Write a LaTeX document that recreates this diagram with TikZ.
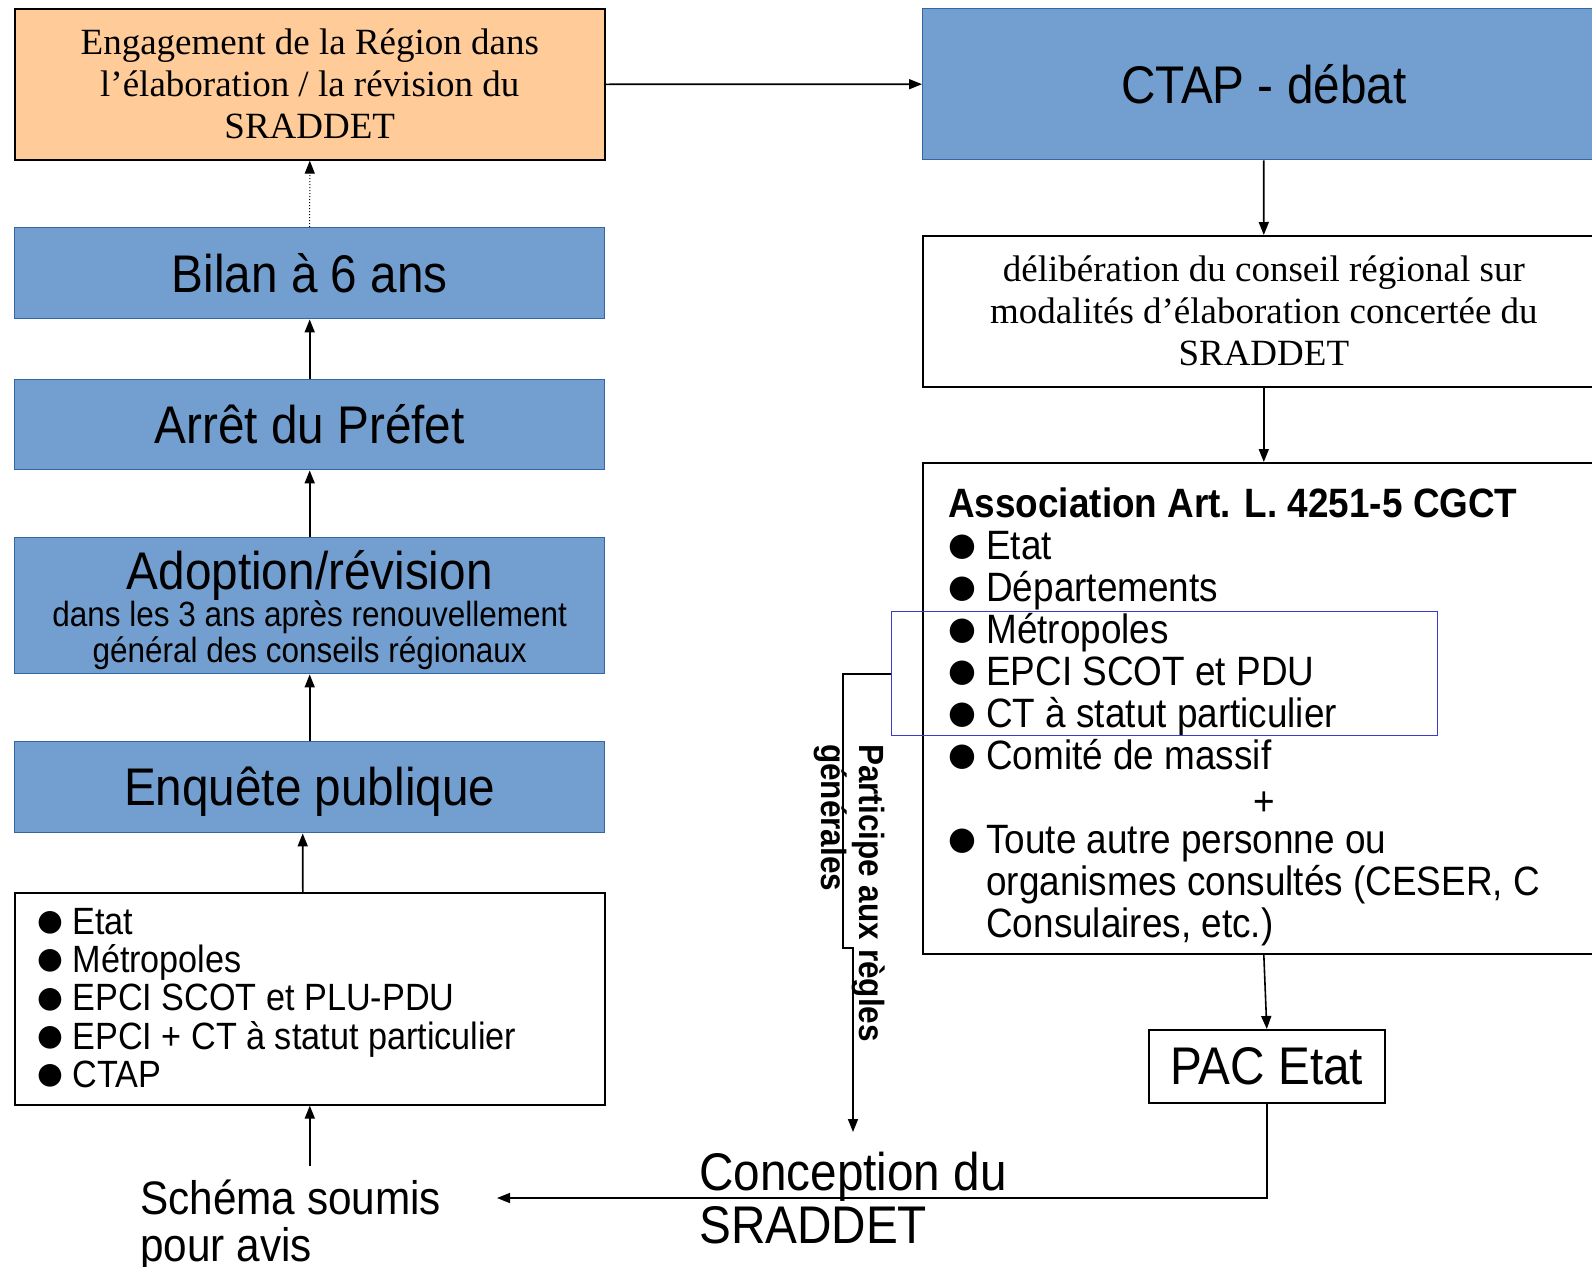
\documentclass[tikz,border=0pt]{standalone}
\usepackage{graphicx}
\usepackage{fontspec}
\setmainfont{Liberation Serif}
\setsansfont[FakeStretch=0.9]{Liberation Sans}
\newfontfamily\puce{DejaVu Sans}
\usetikzlibrary{arrows.meta,positioning,calc}
\definecolor{fondbleu}{HTML}{729FCF}
\definecolor{bordbleu}{HTML}{3465A4}
\definecolor{peche}{HTML}{FFCC99}
\definecolor{traitbleu}{HTML}{3C3CC8}
\newcommand{\bul}{\makebox[.93em][l]{\raisebox{.1em}{\scalebox{.78}{\puce ●}}}}
\newcommand{\suite}{\hspace*{.93em}}

\begin{document}
\begin{tikzpicture}[
 x=1pt,y=-1pt,
 bleu/.style={draw=bordbleu,fill=fondbleu,line width=1.4pt,anchor=north west,align=center,font=\sffamily\fontsize{53}{53}\selectfont},
 cadre/.style={draw=black,fill=white,line width=1.6pt,anchor=north west},
 texte/.style={inner sep=0pt,anchor=north west,align=left,font=\sffamily},
 fleche/.style={-{Triangle[length=13pt,width=10pt]},line width=1.6pt}
]
\path[use as bounding box,clip] (0,0) rectangle (1592,1266);

% colonne de gauche
\node[cadre,fill=peche,minimum width=590,minimum height=151,align=center,font=\fontsize{37}{42}\selectfont] (engag) at (14,8) {Engagement de la Région dans\\l’élaboration / la révision du\\SRADDET};
\node[bleu,minimum width=590,minimum height=91] (bilan) at (14,227) {Bilan à 6 ans};
\node[bleu,minimum width=590,minimum height=90] (arret) at (14,379) {Arrêt du Préfet};
\node[bleu,minimum width=590,minimum height=136,font=\sffamily\fontsize{35}{36}\selectfont] (adopt) at (14,537) {{\fontsize{53}{53}\selectfont\rule{0pt}{48pt}Adoption/révision}\\dans les 3 ans après renouvellement\\général des conseils régionaux};
\node[bleu,minimum width=590,minimum height=91] (enq) at (14,741) {\rule{0pt}{48pt}Enquête publique};
\node[cadre,minimum width=590,minimum height=212] (liste) at (14,892) {};
\node[texte,font=\sffamily\fontsize{38}{38.3}\selectfont] (acteurs) at (37,908) {\bul Etat\\\bul Métropoles\\\bul EPCI SCOT et PLU-PDU\\\bul EPCI + CT à statut particulier\\\bul CTAP};

% colonne de droite
\node[bleu,minimum width=682,minimum height=151] (ctap) at (922,8) {CTAP - débat};
\node[cadre,minimum width=682,minimum height=151,align=center,font=\fontsize{37}{42}\selectfont] (delib) at (922,235) {délibération du conseil régional sur\\modalités d’élaboration concertée du\\SRADDET};
\node[cadre,minimum width=682,minimum height=491] (assoc) at (922,462) {};
\node[texte,font=\sffamily\fontsize{41}{42}\selectfont] (membres) at (948,488) {\textbf{Association Art. L. 4251-5 CGCT}\\\bul Etat\\\bul Départements\\\bul Métropoles\\\bul EPCI SCOT et PDU\\\bul CT à statut particulier\\\bul Comité de massif\\\makebox[632pt][c]{\raisebox{-4pt}{+}}\\\bul Toute autre personne ou\\\suite organismes consultés (CESER, C\\\suite Consulaires, etc.)};
\node[draw=traitbleu,line width=1.4pt,minimum width=546,minimum height=124,anchor=north west] (groupe) at (891,611) {};
\node[cadre,minimum width=236,minimum height=73,font=\sffamily\fontsize{53}{53}\selectfont] (pac) at (1148,1029) {PAC Etat};

% bas
\node[texte,font=\sffamily\fontsize{47}{47}\selectfont] (schema) at (140,1180) {Schéma soumis\\pour avis};
\node[texte,font=\sffamily\fontsize{53}{53}\selectfont] (concep) at (699,1152) {Conception du\\SRADDET};
\node[texte,font=\sffamily\bfseries\fontsize{35}{37.6}\selectfont,rotate=-90] (regles) at (885,744) {Participe aux règles\\générales};
\coordinate (avis) at (497,1198);
\coordinate (cible) at (853,1132);

% fleches
\draw[fleche] (engag.east) -- (ctap.west);
\draw[fleche] (ctap.south) -- (delib.north);
\draw[fleche] (delib.south) -- (assoc.north);
\draw[fleche] (assoc.south) -- (pac.north);
\draw[-{Triangle[length=13pt,width=10pt]},line width=1pt,dotted] (bilan.north) -- (engag.south);
\draw[fleche] (arret.north) -- (bilan.south);
\draw[fleche] (adopt.north) -- (arret.south);
\draw[fleche] (enq.north) -- (adopt.south);
\draw[fleche] ([xshift=-7]liste.north) -- ([xshift=-7]enq.south);
\draw[fleche,shorten <=14] (schema.north -| liste.south) -- (liste.south);
\draw[fleche] (pac.south) |- (avis);
\draw[fleche] (groupe.west) -- ++(-48,0) -- ++(0,274) -- ++(10,0) -- (cible);
\end{tikzpicture}
\end{document}
